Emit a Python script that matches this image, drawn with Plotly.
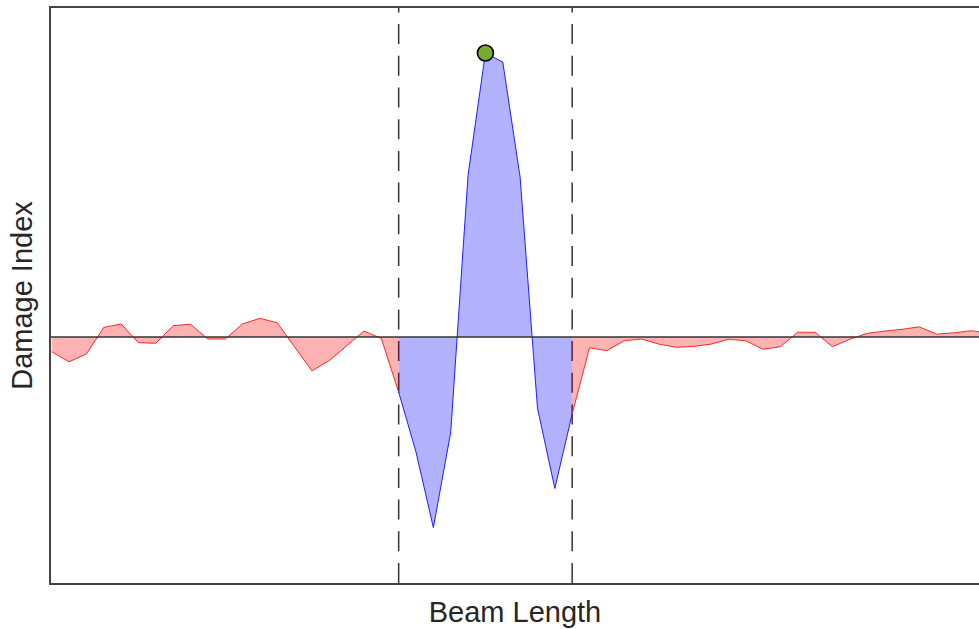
import plotly.graph_objects as go

# Beam positions (sample index along the beam)
beam_pos = list(range(55))

# Damage index values
damage_index = [
    -0.052, -0.087, -0.060, 0.034, 0.046, -0.020, -0.022, 0.040, 0.045, -0.007,
    -0.007, 0.046, 0.066, 0.050, -0.035, -0.119, -0.083, -0.032, 0.021, -0.005,
    -0.194, -0.405, -0.671, -0.335, 0.570, 1.000, 0.968, 0.563, -0.250, -0.533,
    -0.271, -0.038, -0.048, -0.013, -0.007, -0.025, -0.036, -0.033, -0.025, -0.008,
    -0.013, -0.043, -0.034, 0.017, 0.017, -0.034, -0.008, 0.013, 0.021, 0.027,
    0.036, 0.010, 0.015, 0.022, 0.014,
]

zone_start = 20
zone_end = 30
peak_idx = 25

x_range = [-0.04, 53.45]
y_range = [-0.866, 1.1585]

RED_LINE = "rgb(255,40,40)"
RED_FILL = "rgba(255,0,0,0.3)"
BLUE_LINE = "rgb(30,30,255)"
BLUE_FILL = "rgba(0,0,255,0.3)"

fig = go.Figure()

segments = [
    (0, zone_start, RED_LINE, RED_FILL),
    (zone_start, zone_end, BLUE_LINE, BLUE_FILL),
    (zone_end, len(beam_pos) - 1, RED_LINE, RED_FILL),
]
for a, b, lc, fc in segments:
    fig.add_trace(go.Scatter(
        x=beam_pos[a:b + 1], y=damage_index[a:b + 1],
        mode="lines", line=dict(color=lc, width=1),
        fill="tozeroy", fillcolor=fc, hoverinfo="skip", showlegend=False,
    ))

# zero line
fig.add_trace(go.Scatter(
    x=[x_range[0], x_range[1] + 2], y=[0, 0], mode="lines",
    line=dict(color="#333333", width=1.6), showlegend=False, hoverinfo="skip",
))

# peak marker
fig.add_trace(go.Scatter(
    x=[beam_pos[peak_idx]], y=[damage_index[peak_idx]], mode="markers",
    marker=dict(size=16, color="#77AC30", line=dict(color="black", width=1.6)),
    showlegend=False,
))

for xv in (beam_pos[zone_start], beam_pos[zone_end]):
    fig.add_shape(type="line", xref="x", yref="paper", x0=xv, x1=xv, y0=0, y1=1,
                  line=dict(color="#333333", width=1.5, dash="20px,11.7px"),
                  layer="below")

fig.update_layout(
    width=979, height=629,
    margin=dict(l=51, r=0, t=8, b=46),
    paper_bgcolor="white", plot_bgcolor="white",
    font=dict(family="Liberation Sans, Arial, sans-serif", size=24.5, color="#262626"),
    xaxis=dict(range=x_range, showgrid=False, zeroline=False, showticklabels=False,
               ticks="", showline=True, mirror=True, linecolor="#444444", linewidth=1.5,
               title=dict(text="Beam Length", standoff=18)),
    yaxis=dict(range=y_range, showgrid=False, zeroline=False, showticklabels=False,
               ticks="", showline=True, mirror=False, linecolor="#444444", linewidth=1.5,
               title=dict(text="Damage Index", standoff=8)),
)

fig.write_html(
    "out.html",
    config={"displayModeBar": False},
    post_script="document.body.style.margin='0';"
                "document.documentElement.style.overflow='hidden';",
)
